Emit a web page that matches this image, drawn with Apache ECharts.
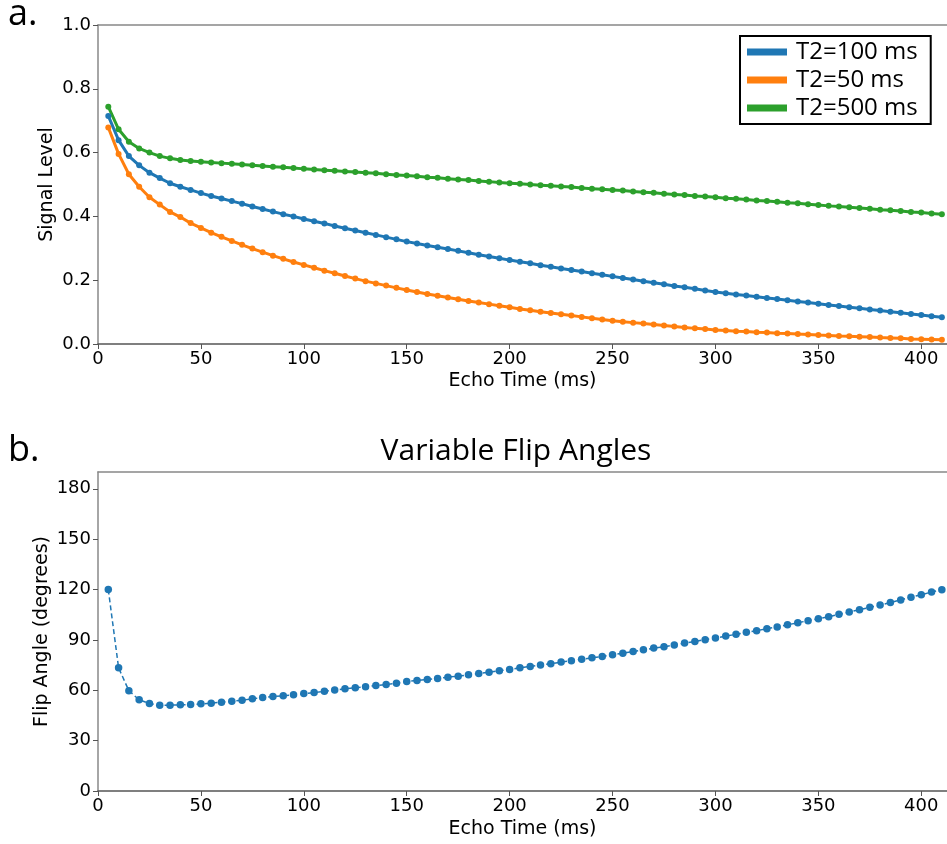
<!DOCTYPE html>
<html><head><meta charset="utf-8">
<script src="https://cdn.jsdelivr.net/npm/echarts@6/dist/echarts.min.js"></script>
<style>html,body{margin:0;padding:0;background:#fff}#c{width:947px;height:844px}</style>
</head><body><div id="c"></div>
<script>
const echoTimes = [5,10,15,20,25,30,35,40,45,50,55,60,65,70,75,80,85,90,95,100,
  105,110,115,120,125,130,135,140,145,150,155,160,165,170,175,180,185,190,195,200,
  205,210,215,220,225,230,235,240,245,250,255,260,265,270,275,280,285,290,295,300,
  305,310,315,320,325,330,335,340,345,350,355,360,365,370,375,380,385,390,395,400,405,410];

const signalT2_100 = [0.715,0.639,0.589,0.560,0.537,0.520,0.504,0.493,0.483,0.473,0.464,0.456,0.448,0.440,0.431,0.423,0.415,0.407,0.400,
  0.392,0.385,0.378,0.370,0.363,0.356,0.349,0.342,0.335,0.328,
  0.321,0.315,0.309,0.303,0.298,0.292,0.286,0.280,0.274,0.269,
  0.263,0.258,0.253,0.247,0.242,0.237,0.232,0.227,0.222,0.217,
  0.212,0.207,0.202,0.197,0.192,0.187,0.182,0.178,0.173,0.168,
  0.163,0.159,0.155,0.152,0.148,0.144,0.141,0.137,0.133,0.130,
  0.126,0.122,0.119,0.115,0.112,0.108,0.105,0.101,0.098,0.094,
  0.091,0.087,0.084];

const signalT2_50 = [0.679,0.596,0.532,0.493,0.460,0.437,0.414,0.398,0.379,0.364,0.349,0.336,0.323,0.311,0.299,0.288,0.277,0.267,0.257,
  0.248,0.239,0.230,0.222,0.213,0.205,0.197,0.190,0.183,0.176,
  0.169,0.163,0.157,0.151,0.146,0.140,0.135,0.130,0.125,0.120,
  0.115,0.110,0.106,0.101,0.097,0.093,0.089,0.085,0.081,0.077,
  0.073,0.070,0.067,0.064,0.061,0.058,0.055,0.052,0.049,0.047,
  0.044,0.042,0.040,0.039,0.037,0.036,0.034,0.033,0.031,0.030,
  0.028,0.027,0.025,0.024,0.023,0.022,0.020,0.019,0.018,0.016,
  0.015,0.014,0.013];

const signalT2_500 = [0.744,0.673,0.634,0.613,0.600,0.589,0.582,0.577,0.574,0.571,0.569,0.567,0.565,0.563,0.560,0.558,0.556,0.554,0.552,
  0.549,0.547,0.545,0.543,0.541,0.539,0.537,0.535,0.532,0.530,
  0.528,0.526,0.523,0.521,0.518,0.516,0.514,0.511,0.509,0.506,
  0.504,0.502,0.500,0.498,0.496,0.494,0.492,0.489,0.487,0.485,
  0.483,0.481,0.478,0.476,0.474,0.471,0.469,0.467,0.464,0.462,
  0.460,0.457,0.455,0.453,0.450,0.448,0.446,0.443,0.441,0.438,
  0.436,0.433,0.431,0.429,0.426,0.424,0.421,0.419,0.417,0.414,
  0.412,0.409,0.407];

const flipAngles = [120,73.4,59.7,54.3,52.1,51.1,51.1,51.3,51.5,51.9,52.3,52.9,53.5,54.1,54.9,55.7,56.3,56.7,57.3,
  58.0,58.6,59.4,60.1,60.9,61.5,62.1,62.8,63.4,64.2,
  65.2,65.8,66.4,67.0,67.8,68.4,69.2,70.0,70.8,71.6,
  72.4,73.4,74.2,75.0,75.8,76.8,77.6,78.4,79.4,80.1,
  81.2,82.1,83.1,84.1,85.1,85.9,86.9,88.1,89.1,90.1,
  91.1,92.3,93.3,94.5,95.5,96.7,97.7,99.0,100.2,101.4,
  102.6,103.8,105.2,106.6,108.0,109.4,110.8,112.2,113.8,115.4,
  116.9,118.5,119.9];

const seriesNames = ['T2=100 ms', 'T2=50 ms', 'T2=500 ms'];
const xTicks = [0,50,100,150,200,250,300,350,400];
const yTicksTop = [0,0.2,0.4,0.6,0.8,1.0];
const yTicksBottom = [0,30,60,90,120,150,180];

const colors = ['#1f77b4', '#ff7f0e', '#2ca02c'];
const pairs = arr => arr.map((v, i) => [echoTimes[i], v]);

const tickText = {fontFamily: 'DejaVu Sans', fontSize: 18, color: '#000'};
const nameText = {fontFamily: 'DejaVu Sans', fontSize: 19, color: '#000'};
const spineDark = '#555';
const spineGray = '#888';

function xAxisCfg(gi, gap) {
  return {
    type: 'value', gridIndex: gi, min: 0, max: 412.5,
    name: 'Echo Time (ms)', nameLocation: 'middle', nameGap: gap, nameTextStyle: nameText,
    axisLine: {show: true, onZero: false, lineStyle: {color: spineDark, width: 1.5}},
    axisTick: {show: true, length: 5, customValues: xTicks, lineStyle: {color: spineDark, width: 1}},
    axisLabel: Object.assign({customValues: xTicks, margin: 6}, tickText),
    splitLine: {show: false}
  };
}
function topSpine(gi) {
  return {
    type: 'value', gridIndex: gi, position: 'top', min: 0, max: 412.5,
    axisLine: {show: true, onZero: false, lineStyle: {color: spineGray, width: 1.5}},
    axisTick: {show: false}, axisLabel: {show: false}, splitLine: {show: false}
  };
}
function yAxisCfg(gi, min, max, ticks, name, gap, fmt) {
  return {
    type: 'value', gridIndex: gi, min: min, max: max,
    name: name, nameLocation: 'middle', nameGap: gap, nameRotate: 90, nameTextStyle: nameText,
    nameMoveOverlap: false,
    axisLine: {show: true, onZero: false, lineStyle: {color: spineGray, width: 1.5}},
    axisTick: {show: true, length: 5, customValues: ticks, lineStyle: {color: spineDark, width: 1}},
    axisLabel: Object.assign({customValues: ticks, margin: 7, formatter: fmt}, tickText),
    splitLine: {show: false}
  };
}

const chart = echarts.init(document.getElementById('c'), null, {renderer: 'canvas'});
chart.setOption({
  animation: false,
  backgroundColor: '#fff',
  grid: [
    {left: 98, top: 25, width: 850, height: 319},
    {left: 98, top: 472, width: 850, height: 319}
  ],
  xAxis: [xAxisCfg(0, 28), xAxisCfg(1, 29), topSpine(0), topSpine(1)],
  yAxis: [
    yAxisCfg(0, 0, 1, yTicksTop, 'Signal Level', 41, v => v.toFixed(1)),
    yAxisCfg(1, 0, 190, yTicksBottom, 'Flip Angle (degrees)', 46, v => String(v))
  ],
  legend: {
    data: seriesNames.map(n => ({name: n, icon: 'rect'})),
    orient: 'vertical', left: 740, top: 36,
    itemWidth: 40, itemHeight: 7, itemGap: 4,
    padding: [4, 13, 4, 7],
    borderColor: '#000', borderWidth: 2, borderRadius: 0,
    backgroundColor: '#fff',
    textStyle: {fontFamily: 'Open Sans', fontSize: 24, color: '#000', lineHeight: 24, padding: [0, 0, 0, 4]}
  },
  graphic: [
    {type: 'text', x: 8, y: 15, style: {text: 'a.', font: '36px "Open Sans"', fill: '#000', align: 'left', verticalAlign: 'middle'}},
    {type: 'text', x: 8, y: 451, style: {text: 'b.', font: '36px "Open Sans"', fill: '#000', align: 'left', verticalAlign: 'middle'}},
    {type: 'text', x: 516, y: 451, style: {text: 'Variable Flip Angles', font: '30px "Open Sans"', fill: '#000', align: 'center', verticalAlign: 'middle'}}
  ],
  series: [
    {name: seriesNames[0], type: 'line', xAxisIndex: 0, yAxisIndex: 0, data: pairs(signalT2_100),
      symbol: 'circle', symbolSize: 6, showSymbol: true, color: colors[0],
      lineStyle: {width: 3, color: colors[0]}, itemStyle: {color: colors[0]}},
    {name: seriesNames[1], type: 'line', xAxisIndex: 0, yAxisIndex: 0, data: pairs(signalT2_50),
      symbol: 'circle', symbolSize: 6, showSymbol: true, color: colors[1],
      lineStyle: {width: 3, color: colors[1]}, itemStyle: {color: colors[1]}},
    {name: seriesNames[2], type: 'line', xAxisIndex: 0, yAxisIndex: 0, data: pairs(signalT2_500),
      symbol: 'circle', symbolSize: 6, showSymbol: true, color: colors[2],
      lineStyle: {width: 3, color: colors[2]}, itemStyle: {color: colors[2]}},
    {name: 'Flip Angle', type: 'line', xAxisIndex: 1, yAxisIndex: 1, data: pairs(flipAngles),
      symbol: 'circle', symbolSize: 7.5, showSymbol: true, color: colors[0],
      lineStyle: {width: 1.5, type: [5, 3], color: colors[0]}, itemStyle: {color: colors[0]}}
  ]
});
</script>
</body></html>
